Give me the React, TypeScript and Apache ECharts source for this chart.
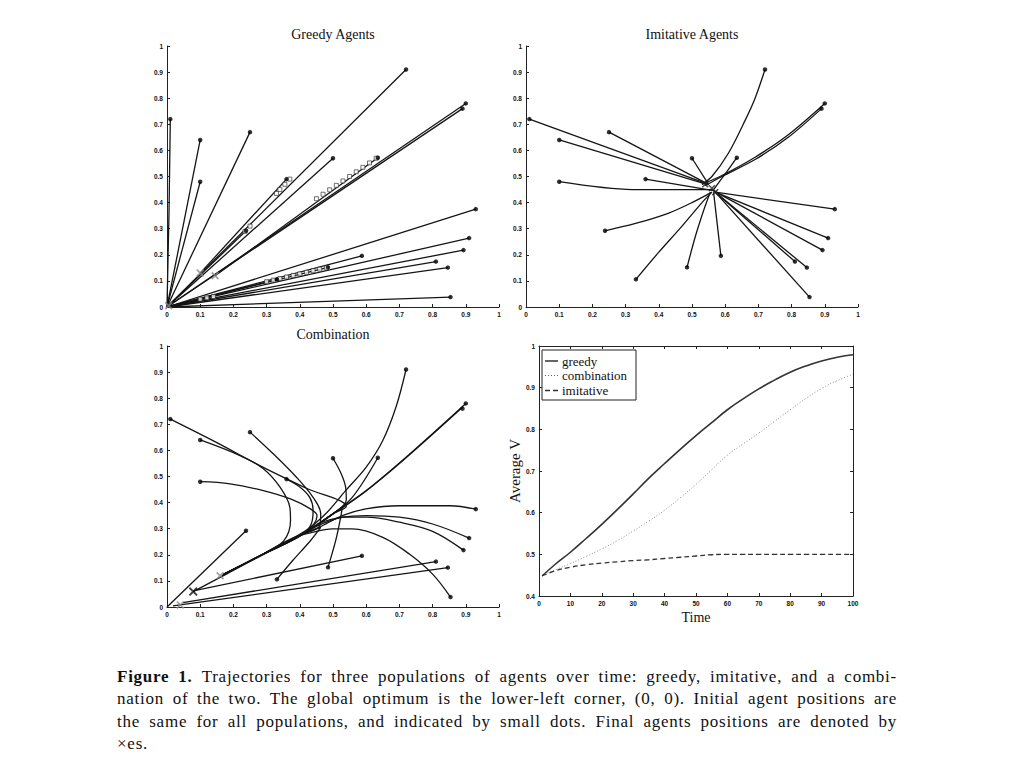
import React, { useEffect, useRef } from "react";
import * as echarts from "echarts";

// ---------- data ----------
// initial agent positions (same for all three populations)
const starts: number[][] = [
  [0.01, 0.72], [0.10, 0.64], [0.10, 0.48], [0.25, 0.67], [0.36, 0.49],
  [0.50, 0.57], [0.635, 0.572], [0.72, 0.91], [0.90, 0.78], [0.89, 0.76],
  [0.93, 0.375], [0.91, 0.264], [0.893, 0.218], [0.81, 0.174], [0.846, 0.151],
  [0.854, 0.038], [0.587, 0.196], [0.485, 0.152], [0.331, 0.106], [0.238, 0.292],
];

const greedyPaths: number[][][] = [
  [[0.01, 0.72], [0.006, 0.36], [0, 0]],
  [[0.10, 0.64], [0, 0]],
  [[0.10, 0.48], [0, 0]],
  [[0.25, 0.67], [0, 0]],
  [[0.36, 0.49], [0.10, 0.13]],
  [[0.50, 0.57], [0, 0]],
  [[0.635, 0.572], [0.145, 0.12]],
  [[0.72, 0.91], [0, 0]],
  [[0.90, 0.78], [0, 0]],
  [[0.89, 0.76], [0, 0]],
  [[0.93, 0.375], [0, 0]],
  [[0.91, 0.264], [0, 0]],
  [[0.893, 0.218], [0, 0]],
  [[0.81, 0.174], [0, 0]],
  [[0.846, 0.151], [0, 0]],
  [[0.854, 0.038], [0, 0]],
  [[0.587, 0.196], [0, 0]],
  [[0.485, 0.152], [0, 0]],
  [[0.331, 0.106], [0, 0]],
  [[0.238, 0.292], [0, 0]],
];
// intermediate steps drawn as small open squares in the greedy panel
const greedySteps: number[][] = [
  [0.37, 0.49], [0.355, 0.47], [0.34, 0.45], [0.33, 0.435], [0.25, 0.31], [0.235, 0.29],
  [0.63, 0.57], [0.61, 0.552], [0.59, 0.535], [0.57, 0.518], [0.55, 0.50], [0.53, 0.483],
  [0.51, 0.466], [0.49, 0.449], [0.47, 0.432], [0.45, 0.415],
  [0.48, 0.15], [0.46, 0.145], [0.44, 0.139], [0.42, 0.133], [0.40, 0.127], [0.38, 0.121],
  [0.36, 0.115], [0.34, 0.109], [0.32, 0.103], [0.30, 0.097],
  [0.14, 0.04], [0.12, 0.035], [0.10, 0.03],
];
const greedyFinal: number[][] = [[0.10, 0.13], [0.145, 0.12], [0.005, 0.005]];

const imitativePaths: number[][][] = [
  [[0.01, 0.72], [0.54, 0.475]],
  [[0.10, 0.64], [0.545, 0.47]],
  [[0.10, 0.48], [0.32, 0.45], [0.56, 0.45]],
  [[0.25, 0.67], [0.55, 0.47]],
  [[0.36, 0.49], [0.57, 0.445]],
  [[0.50, 0.57], [0.55, 0.47]],
  [[0.635, 0.572], [0.60, 0.51], [0.565, 0.45]],
  [[0.72, 0.91], [0.69, 0.80], [0.66, 0.715], [0.61, 0.59], [0.56, 0.50], [0.53, 0.47]],
  [[0.90, 0.78], [0.79, 0.66], [0.69, 0.574], [0.59, 0.504], [0.53, 0.47]],
  [[0.89, 0.76], [0.79, 0.65], [0.69, 0.565], [0.59, 0.50], [0.54, 0.465]],
  [[0.93, 0.375], [0.57, 0.44]],
  [[0.91, 0.264], [0.57, 0.44]],
  [[0.893, 0.218], [0.565, 0.445]],
  [[0.81, 0.174], [0.57, 0.44]],
  [[0.846, 0.151], [0.575, 0.435]],
  [[0.854, 0.038], [0.57, 0.44]],
  [[0.587, 0.196], [0.565, 0.44]],
  [[0.485, 0.152], [0.51, 0.27], [0.535, 0.37], [0.555, 0.44]],
  [[0.331, 0.106], [0.40, 0.21], [0.47, 0.31], [0.53, 0.40], [0.56, 0.44]],
  [[0.238, 0.292], [0.33, 0.32], [0.43, 0.36], [0.50, 0.40], [0.56, 0.44]],
];
const imitativeFinal: number[][] = [[0.54, 0.47], [0.56, 0.455], [0.57, 0.44]];

const comboPaths: number[][][] = [
  [[0.01, 0.72], [0.15, 0.63], [0.29, 0.535], [0.42, 0.455], [0.54, 0.385], [0.50, 0.357], [0.41, 0.28], [0.29, 0.203], [0.17, 0.125]],
  [[0.10, 0.64], [0.22, 0.58], [0.29, 0.53], [0.34, 0.46], [0.37, 0.382], [0.372, 0.331], [0.352, 0.254], [0.29, 0.203], [0.17, 0.125]],
  [[0.10, 0.48], [0.19, 0.472], [0.29, 0.446], [0.372, 0.414], [0.432, 0.376], [0.452, 0.35], [0.41, 0.28], [0.29, 0.203], [0.17, 0.125]],
  [[0.25, 0.67], [0.32, 0.587], [0.39, 0.497], [0.44, 0.42], [0.463, 0.357], [0.46, 0.31], [0.41, 0.28], [0.29, 0.203], [0.17, 0.125]],
  [[0.36, 0.49], [0.40, 0.46], [0.43, 0.42], [0.44, 0.37], [0.435, 0.32], [0.41, 0.28], [0.29, 0.203]],
  [[0.50, 0.57], [0.525, 0.51], [0.538, 0.459], [0.54, 0.41], [0.50, 0.357], [0.41, 0.28]],
  [[0.635, 0.572], [0.558, 0.42], [0.50, 0.357], [0.41, 0.28], [0.29, 0.203]],
  [[0.72, 0.91], [0.69, 0.767], [0.65, 0.638], [0.60, 0.536], [0.538, 0.446], [0.478, 0.357], [0.417, 0.292], [0.29, 0.203], [0.17, 0.125]],
  [[0.90, 0.78], [0.72, 0.574], [0.60, 0.446], [0.50, 0.357], [0.41, 0.28], [0.29, 0.203], [0.165, 0.12]],
  [[0.89, 0.765], [0.715, 0.566], [0.595, 0.44], [0.495, 0.352], [0.405, 0.276], [0.285, 0.198], [0.17, 0.12], [0.079, 0.059]],
  [[0.93, 0.375], [0.852, 0.388], [0.70, 0.388], [0.599, 0.376], [0.528, 0.35], [0.458, 0.305], [0.41, 0.28]],
  [[0.91, 0.264], [0.80, 0.318], [0.70, 0.344], [0.60, 0.35], [0.528, 0.344], [0.458, 0.32], [0.41, 0.28]],
  [[0.893, 0.218], [0.80, 0.29], [0.70, 0.325], [0.60, 0.344], [0.54, 0.344], [0.47, 0.32], [0.41, 0.28]],
  [[0.81, 0.174], [0.048, 0.017]],
  [[0.846, 0.151], [0.018, 0.004]],
  [[0.854, 0.038], [0.80, 0.126], [0.73, 0.203], [0.65, 0.267], [0.558, 0.299], [0.498, 0.299], [0.437, 0.286], [0.38, 0.265], [0.29, 0.203]],
  [[0.587, 0.196], [0.079, 0.062]],
  [[0.485, 0.152], [0.508, 0.254], [0.523, 0.343], [0.528, 0.382], [0.50, 0.357], [0.41, 0.28]],
  [[0.331, 0.106], [0.38, 0.18], [0.432, 0.254], [0.463, 0.305], [0.41, 0.28], [0.29, 0.203]],
  [[0.238, 0.292], [0, 0]],
];
const comboFinalGray: number[][] = [[0.16, 0.12], [0.04, 0.008]];
const comboFinalDark: number[][] = [[0.079, 0.059]];

// average V over time
const timeSteps = [1, 5, 10, 15, 20, 25, 30, 35, 40, 45, 50, 55, 60, 65, 70, 75, 80, 85, 90, 95, 100];
const greedyV = [0.448, 0.475, 0.505, 0.538, 0.572, 0.608, 0.645, 0.683, 0.718, 0.752, 0.785, 0.816, 0.847, 0.873, 0.897, 0.918, 0.937, 0.952, 0.964, 0.973, 0.979];
const comboV = [0.45, 0.462, 0.478, 0.495, 0.513, 0.533, 0.556, 0.58, 0.606, 0.636, 0.668, 0.703, 0.738, 0.765, 0.791, 0.819, 0.847, 0.874, 0.898, 0.917, 0.932];
const imitativeV = [0.448, 0.46, 0.469, 0.475, 0.479, 0.482, 0.485, 0.487, 0.49, 0.493, 0.496, 0.499, 0.5, 0.5, 0.5, 0.5, 0.5, 0.5, 0.5, 0.5, 0.5];

const legendNames = ["greedy", "combination", "imitative"];
const panelTitles = ["Greedy Agents", "Imitative Agents", "Combination"];
const timeLabel = "Time";
const valueLabel = "Average V";

const captionLines = [
  "Trajectories for three populations of agents over time: greedy, imitative, and a combi-",
  "nation of the two. The global optimum is the lower-left corner, (0, 0). Initial agent positions are",
  "the same for all populations, and indicated by small dots. Final agents positions are denoted by",
  "\u00D7es.",
];

// ---------- chart ----------
const X_SYMBOL = "path://M0,1.5L1.5,0L5,3.5L8.5,0L10,1.5L6.5,5L10,8.5L8.5,10L5,6.5L1.5,10L0,8.5L3.5,5Z";
const tickFont = { fontSize: 6.5, fontWeight: "bold" as const, color: "#111", fontFamily: "Liberation Sans" };
const serif = "Liberation Serif";
const LW = 1.3;

function trajAxes(gi: number) {
  const common = {
    gridIndex: gi, type: "value", min: 0, max: 1, interval: 0.1,
    axisLine: { show: true, onZero: false, lineStyle: { color: "#222", width: 1 } },
    axisTick: { show: true, inside: true, length: 3, lineStyle: { color: "#222" } },
    axisLabel: { ...tickFont, margin: 4 },
    splitLine: { show: false },
  };
  return { x: { ...common }, y: { ...common } };
}

function pathSeries(paths: number[][][], gi: number, smooth: number) {
  return paths.map((p) => ({
    type: "line", xAxisIndex: gi, yAxisIndex: gi, data: p, symbol: "none",
    smooth: p.length > 2 ? smooth : false,
    lineStyle: { color: "#151515", width: LW }, silent: true, z: 2,
  }));
}

function startSeries(gi: number) {
  return {
    type: "scatter", xAxisIndex: gi, yAxisIndex: gi, data: starts, symbol: "circle",
    symbolSize: 4.5, itemStyle: { color: "#000" }, silent: true, z: 5,
  };
}

function finalSeries(gi: number, data: number[][], color: string, size: number) {
  return {
    type: "scatter", xAxisIndex: gi, yAxisIndex: gi, data, symbol: X_SYMBOL,
    symbolSize: size, itemStyle: { color }, silent: true, z: 6,
  };
}

function buildOption() {
  const a0 = trajAxes(0), a1 = trajAxes(1), a2 = trajAxes(2);
  const xAxes: any[] = [a0.x, a1.x, a2.x];
  const yAxes: any[] = [a0.y, a1.y, a2.y];
  // line chart axes (with box)
  xAxes.push({
    gridIndex: 3, type: "value", min: 0, max: 100, interval: 10,
    name: timeLabel, nameLocation: "middle", nameGap: 14,
    nameTextStyle: { fontFamily: serif, fontSize: 14, color: "#111" },
    axisLine: { show: true, onZero: false, lineStyle: { color: "#222" } },
    axisTick: { inside: true, length: 3, lineStyle: { color: "#222" } },
    axisLabel: { ...tickFont, margin: 4 }, splitLine: { show: false },
  });
  xAxes.push({
    gridIndex: 3, type: "value", min: 0, max: 100, interval: 10, position: "top",
    axisLine: { show: true, onZero: false, lineStyle: { color: "#222" } },
    axisTick: { inside: true, length: 3, lineStyle: { color: "#222" } },
    axisLabel: { show: false }, splitLine: { show: false },
  });
  yAxes.push({
    gridIndex: 3, type: "value", min: 0.4, max: 1, interval: 0.1,
    name: valueLabel, nameLocation: "middle", nameGap: 17,
    nameTextStyle: { fontFamily: serif, fontSize: 15, color: "#111" },
    axisLine: { show: true, onZero: false, lineStyle: { color: "#222" } },
    axisTick: { inside: true, length: 3, lineStyle: { color: "#222" } },
    axisLabel: { ...tickFont, margin: 4 }, splitLine: { show: false },
  });
  yAxes.push({
    gridIndex: 3, type: "value", min: 0.4, max: 1, interval: 0.1, position: "right",
    axisLine: { show: true, onZero: false, lineStyle: { color: "#222" } },
    axisTick: { inside: true, length: 3, lineStyle: { color: "#222" } },
    axisLabel: { show: false }, splitLine: { show: false },
  });

  const series: any[] = [];
  series.push(...pathSeries(greedyPaths, 0, 0));
  series.push({
    type: "scatter", xAxisIndex: 0, yAxisIndex: 0, data: greedySteps, symbol: "rect",
    symbolSize: 4, itemStyle: { color: "#fff", borderColor: "#222", borderWidth: 0.8 }, silent: true, z: 4,
  });
  series.push(startSeries(0));
  series.push(finalSeries(0, greedyFinal, "#888", 8));

  series.push(...pathSeries(imitativePaths, 1, 0.3));
  series.push(startSeries(1));
  series.push(finalSeries(1, imitativeFinal, "#222", 7));

  series.push(...pathSeries(comboPaths, 2, 0.35));
  series.push(startSeries(2));
  series.push(finalSeries(2, comboFinalGray, "#888", 8));
  series.push(finalSeries(2, comboFinalDark, "#111", 9));

  const pair = (vals: number[]) => timeSteps.map((t, i) => [t, vals[i]]);
  series.push({
    name: legendNames[0], type: "line", xAxisIndex: 3, yAxisIndex: 3, data: pair(greedyV),
    symbol: "none", smooth: true, lineStyle: { color: "#333", width: 1.6 }, z: 3,
  });
  series.push({
    name: legendNames[1], type: "line", xAxisIndex: 3, yAxisIndex: 3, data: pair(comboV),
    symbol: "none", smooth: true, lineStyle: { color: "#8a8a8a", width: 1, type: [1, 2] }, z: 3,
  });
  series.push({
    name: legendNames[2], type: "line", xAxisIndex: 3, yAxisIndex: 3, data: pair(imitativeV),
    symbol: "none", smooth: true, lineStyle: { color: "#333", width: 1.3, type: [5, 3] }, z: 3,
  });

  const lg = { x: 542, y: 350, w: 94, h: 50 };
  const legendRows = [361, 375.5, 390.5];
  const legendStyles: any[] = [
    { stroke: "#333", lineWidth: 1.5 },
    { stroke: "#666", lineWidth: 1, lineDash: [1, 2] },
    { stroke: "#333", lineWidth: 1.3, lineDash: [5, 3] },
  ];

  const titleStyle = (text: string) => ({ text, font: `14px ${serif}`, fill: "#111", textAlign: "center", textVerticalAlign: "middle" });
  const graphic: any[] = [
    { type: "text", x: 333, y: 34, z: 10, style: titleStyle(panelTitles[0]) },
    { type: "text", x: 692, y: 34, z: 10, style: titleStyle(panelTitles[1]) },
    { type: "text", x: 333, y: 334, z: 10, style: titleStyle(panelTitles[2]) },
    { type: "rect", z: 20, shape: { x: lg.x, y: lg.y, width: lg.w, height: lg.h }, style: { fill: "#fff", stroke: "#222", lineWidth: 1 } },
  ];
  legendRows.forEach((ry, i) => {
    graphic.push({ type: "line", z: 21, shape: { x1: lg.x + 3, y1: ry, x2: lg.x + 16, y2: ry }, style: legendStyles[i] });
    graphic.push({ type: "text", z: 21, x: lg.x + 20, y: ry, style: { text: legendNames[i], font: `13px ${serif}`, fill: "#111", textVerticalAlign: "middle" } });
  });

  return {
    animation: false,
    backgroundColor: "#fff",
    grid: [
      { left: 167, top: 46, width: 332, height: 261 },
      { left: 526, top: 46, width: 332, height: 261 },
      { left: 167, top: 346, width: 332, height: 261 },
      { left: 539, top: 346, width: 314, height: 250 },
    ],
    xAxis: xAxes,
    yAxis: yAxes,
    series,
    graphic,
  };
}

export default function App() {
  const ref = useRef<HTMLDivElement>(null);
  useEffect(() => {
    if (!ref.current) return;
    const chart = echarts.init(ref.current, undefined, { renderer: "svg" });
    chart.setOption(buildOption() as any);
    return () => chart.dispose();
  }, []);
  return (
    <div style={{ position: "absolute", left: 0, top: 0, width: 1024, height: 768, background: "#fff" }}>
      <div ref={ref} style={{ position: "absolute", left: 0, top: 0, width: 1024, height: 640 }} />
      <div
        style={{
          position: "absolute", left: 117, top: 666, width: 780,
          fontFamily: "'Liberation Serif', serif", fontSize: 17, lineHeight: "22.4px",
          letterSpacing: "0.75px", color: "#111",
        }}
      >
        {captionLines.map((line, i) => (
          <div
            key={i}
            style={{ textAlign: "justify", textAlignLast: i < captionLines.length - 1 ? "justify" : "left", whiteSpace: "nowrap" }}
          >
            {i === 0 ? <b>Figure 1. </b> : null}
            {line}
          </div>
        ))}
      </div>
    </div>
  );
}
